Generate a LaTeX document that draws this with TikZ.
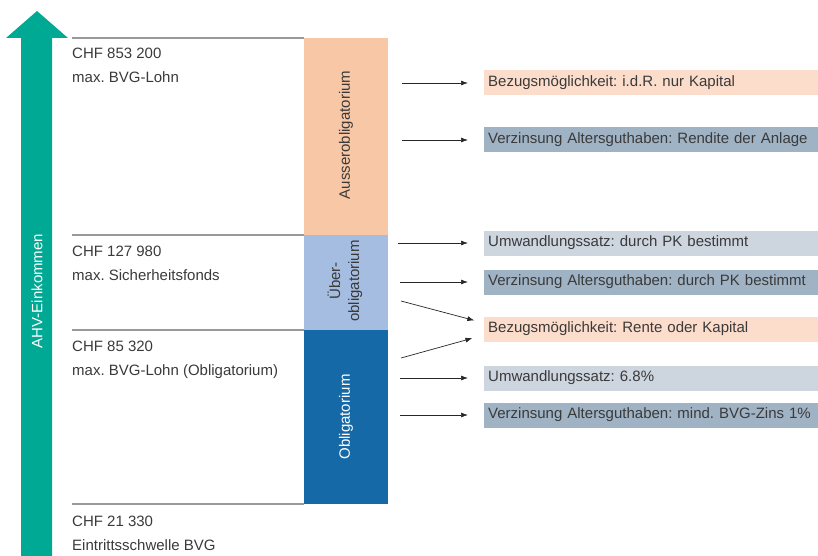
\documentclass[tikz,border=0pt]{standalone}
\usepackage{fontspec}
\setmainfont{Liberation Sans}
\usetikzlibrary{arrows.meta,positioning}
\definecolor{ahvgruen}{HTML}{00A994}
\definecolor{textgrau}{HTML}{3A3A3A}
\definecolor{liniengrau}{HTML}{999999}
\definecolor{aussercol}{HTML}{F8C7A5}
\definecolor{uebercol}{HTML}{A5BDE1}
\definecolor{obligcol}{HTML}{1569A6}
\definecolor{pfirsich}{HTML}{FCDDCB}
\definecolor{blaugrau}{HTML}{A0B3C5}
\definecolor{hellgrau}{HTML}{CDD5DF}

\begin{document}
\begin{tikzpicture}[x=1pt,y=-1pt,
	schrift/.style={font=\fontsize{15}{24}\selectfont\frenchspacing},
	lbl/.style={schrift,anchor=north west,inner sep=0pt,align=left,text=textgrau},
	balken/.style={schrift,rotate=90,inner sep=0pt,align=center},
	kasten/.style={schrift,anchor=west,inner xsep=4pt,inner ysep=0pt,minimum height=25pt,
		text width=326pt,align=left,text=textgrau},
	pfeil/.style={-{Latex[length=7pt,width=5pt]},line width=0.7pt,draw=black!85,shorten >=16pt}]
	%Frame: 818 x 556, y runs downwards
	\useasboundingbox (0,0) rectangle (818,556);
	
	%Levels of the four limits and x-range of the columns
	\pgfmathsetmacro{\ya}{38}
	\pgfmathsetmacro{\yb}{235}
	\pgfmathsetmacro{\yc}{330}
	\pgfmathsetmacro{\yd}{504}
	\pgfmathsetmacro{\xl}{72}
	\pgfmathsetmacro{\xm}{304}
	\pgfmathsetmacro{\xr}{388}
	
	%AHV arrow
	\fill[ahvgruen] (21,556) -- (21,\ya) -- (6,\ya) -- (37,11) -- (68,\ya) -- (52,\ya) -- (52,556) -- cycle;
	\node[balken,text=white] (ahv) at (37,291) {AHV-Einkommen};
	
	%Limits
	\foreach \y in {\ya,\yb,\yc,\yd}
		\draw[liniengrau,line width=2pt] (\xl,\y) -- (\xm,\y);
	
	%text height of the first line is about 11pt above its baseline
	\node[lbl] (l1) at (\xl,\ya+10) {CHF 853 200\\max. BVG-Lohn};
	\node[lbl] (l2) at (\xl,\yb+11) {CHF 127 980\\max. Sicherheitsfonds};
	\node[lbl] (l3) at (\xl,\yc+11) {CHF 85 320\\max. BVG-Lohn (Obligatorium)};
	\node[lbl] (l4) at (\xl,\yd+12) {CHF 21 330\\Eintrittsschwelle BVG};
	
	%Columns
	\fill[aussercol] (\xm,\ya) rectangle (\xr,\yb);
	\fill[uebercol] (\xm,\yb) rectangle (\xr,\yc);
	\fill[obligcol] (\xm,\yc) rectangle (\xr,\yd);
	\node[balken,text=textgrau] (ausser) at (346,135) {Ausserobligatorium};
	\node[balken,text=textgrau,font=\fontsize{15}{19}\selectfont] (ueber) at (345,281) {Über-\\obligatorium};
	\node[balken,text=white] (oblig) at (346,417) {Obligatorium};
	
	%Properties
	\node[kasten,fill=pfirsich] (b1) at (484,83) {Bezugsmöglichkeit: i.d.R. nur Kapital};
	\node[kasten,fill=blaugrau] (b2) at (484,140) {Verzinsung Altersguthaben: Rendite der Anlage};
	\node[kasten,fill=hellgrau] (b3) at (484,243) {Umwandlungssatz: durch PK bestimmt};
	\node[kasten,fill=blaugrau] (b4) at (484,282) {Verzinsung Altersguthaben: durch PK bestimmt};
	\node[kasten,fill=pfirsich] (b5) at (484,329) {Bezugsmöglichkeit: Rente oder Kapital};
	\node[kasten,fill=hellgrau] (b6) at (484,378) {Umwandlungssatz: 6.8\%};
	\node[kasten,fill=blaugrau] (b7) at (484,415) {Verzinsung Altersguthaben: mind. BVG-Zins 1\%};
	
	%Arrows
	\coordinate (s1) at (402,83);
	\coordinate (s2) at (402,140);
	\coordinate (s3) at (398,243);
	\coordinate (s4) at (400,282);
	\coordinate (s5a) at (401,301);
	\coordinate (s5b) at (401,358);
	\coordinate (s6) at (400,378);
	\coordinate (s7) at (400,415);
	\foreach \i in {1,2,3,4,6,7}
		\draw[pfeil] (s\i) -- (b\i.west);
	\draw[pfeil,shorten >=10pt] (s5a) -- ([yshift=6pt]b5.west);
	\draw[pfeil,shorten >=12pt] (s5b) -- ([yshift=-6pt]b5.west);
\end{tikzpicture}
\end{document}
